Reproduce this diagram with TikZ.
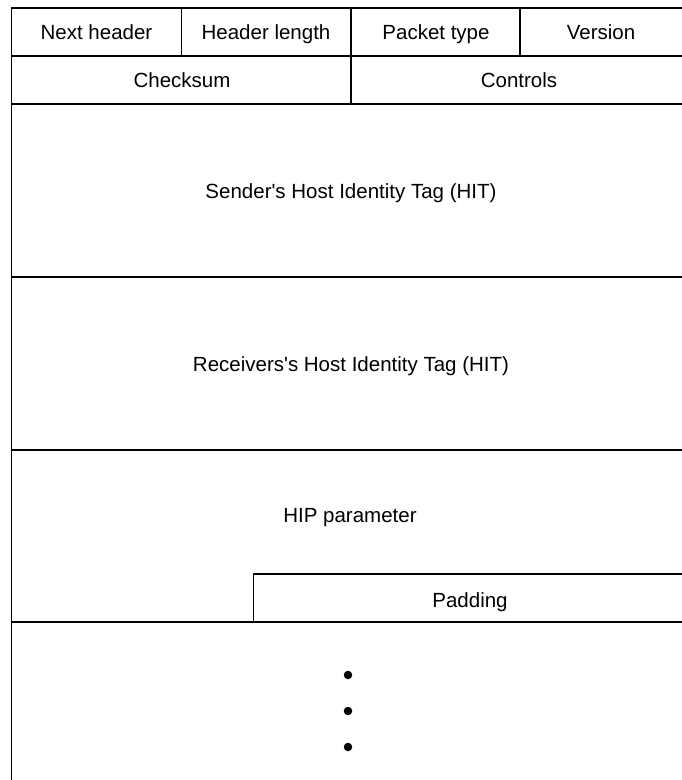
\documentclass[tikz,border=0pt]{standalone}
\usepackage{fontspec}
\newfontfamily\plainsans{Liberation Sans}
\begin{document}
\begin{tikzpicture}[x=1pt,y=-1pt,
  rule/.style={line width=1.5pt, line cap=rect},
  lbl/.style={font=\plainsans\fontsize{20.5}{24}\selectfont, inner sep=0pt, anchor=base},
  dotmark/.style={fill=black, circle, minimum size=8.5pt, inner sep=0pt}]
\useasboundingbox (0,0) rectangle (682,780);
% horizontal rules
\draw[rule] (11.5,8) -- (682,8);
\draw[rule] (11.5,56) -- (682,56);
\draw[rule] (11.5,104) -- (682,104);
\draw[rule] (11.5,277) -- (682,277);
\draw[rule] (11.5,450) -- (682,450);
\draw[rule] (11.5,622) -- (682,622);
% left edge
\draw[rule] (11.5,8) -- (11.5,780);
% row dividers
\draw[rule] (181.5,8) -- (181.5,56);
\draw[rule] (351,8) -- (351,104);
\draw[rule] (520,8) -- (520,56);
% padding box
\draw[rule] (253.5,622) -- (253.5,574) -- (682,574);
% labels
\node[lbl] (nh) at (96.5,39) {Next header};
\node[lbl] (hl) at (266,39) {Header length};
\node[lbl] (pt) at (436,39) {Packet type};
\node[lbl] (ver) at (601,39) {Version};
\node[lbl] (cs) at (182,87) {Checksum};
\node[lbl] (ct) at (519,87) {Controls};
\node[lbl] (shit) at (351,198) {Sender's Host Identity Tag (HIT)};
\node[lbl] (rhit) at (351,371) {Receivers's Host Identity Tag (HIT)};
\node[lbl] (hip) at (350,522) {HIP parameter};
\node[lbl] (pad) at (470,607) {Padding};
% dots
\node[dotmark] (d1) at (348,675) {};
\node[dotmark] (d2) at (348,711) {};
\node[dotmark] (d3) at (348,747) {};
\end{tikzpicture}
\end{document}
